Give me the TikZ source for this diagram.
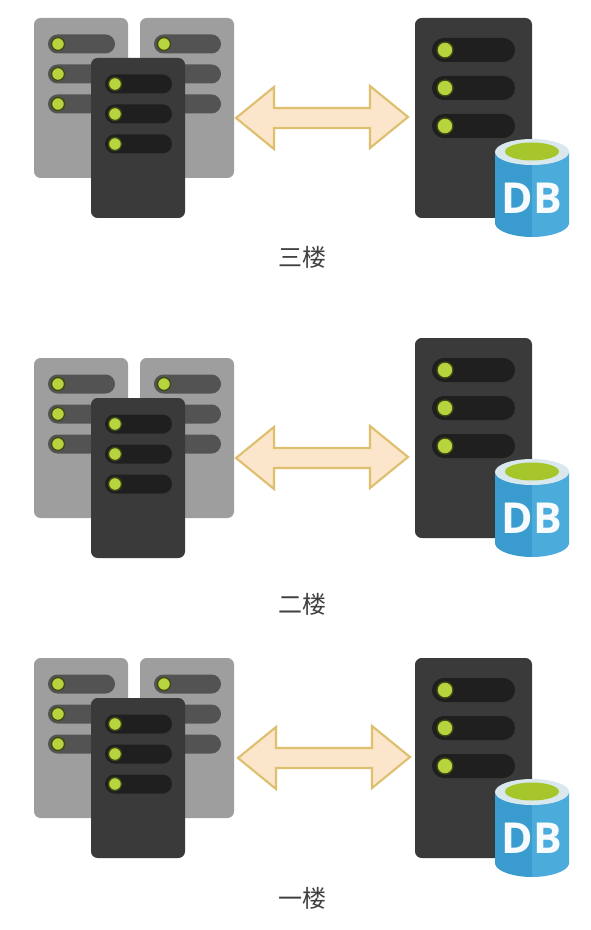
\documentclass[tikz,border=0pt]{standalone}
\usepackage{fontspec}
\setmainfont{Open Sans}
\newfontfamily\cjk{Noto Sans CJK SC}
\definecolor{srvgray}{HTML}{9E9E9E}
\definecolor{pillgray}{HTML}{535353}
\definecolor{srvdark}{HTML}{3A3A3A}
\definecolor{pilldark}{HTML}{1F1F1F}
\definecolor{ledgreen}{HTML}{B7D33E}
\definecolor{ledring}{HTML}{3F4A12}
\definecolor{arrowfill}{HTML}{FBE6CB}
\definecolor{arrowline}{HTML}{DDBF6E}
\definecolor{dbblue}{HTML}{3A9BCF}
\definecolor{dblight}{HTML}{4BABDB}
\definecolor{dbrim}{HTML}{D9E8EC}
\definecolor{dbgreen}{HTML}{A6C62B}
\tikzset{
  x=0.75pt,y=-0.75pt,
  grayserver/.style={fill=srvgray,rounded corners=5pt},
  darkserver/.style={fill=srvdark,rounded corners=5pt},
  ledlight/.style={fill=ledgreen,draw=ledring,line width=1pt},
  linkarrow/.style={fill=arrowfill,draw=arrowline,line width=1.6pt,line join=miter},
  floorlabel/.style={font=\cjk\fontsize{18}{18}\selectfont,text=black!75,inner sep=0pt},
  dbtext/.style={font=\bfseries\fontsize{32}{32}\selectfont,text=white!96!dbblue,inner sep=0pt},
}
% small server: #1 x, #2 y (top left), #3 body style, #4 pill colour
\newcommand{\smallsrv}[4]{%
  \fill[#3] (#1,#2) rectangle ++(94,160);
  \foreach \r in {26,56,86}{
    \fill[#4,rounded corners=7.1pt] (#1+14,#2+\r-9.5) rectangle ++(67,19);
    \draw[ledlight] (#1+24,#2+\r) circle (6.5);
  }
}
% large server
\newcommand{\bigsrv}[1]{%
  \fill[darkserver] (415,#1) rectangle ++(117,200);
  \foreach \r in {32,70,108}{
    \fill[pilldark,rounded corners=8.9pt] (432,#1+\r-12) rectangle ++(83,24);
    \draw[ledlight] (445,#1+\r) circle (8);
  }
}
% database cylinder, #1 y offset, #2 node name
\newcommand{\dbcyl}[2]{%
  \begin{scope}[yshift=-#1*0.75pt]
    \fill[dbblue] (495,152) -- (495,224) .. controls (497,232) and (515,237) .. (532,237)
       -- (532,165) -- cycle;
    \fill[dblight] (569,152) -- (569,224) .. controls (567,232) and (549,237) .. (532,237)
       -- (532,165) -- cycle;
    \fill[dbrim] (532,152) ellipse (37 and 13);
    \fill[dbgreen] (532,151.5) ellipse (27 and 9);
    \node[dbtext] (#2) at (532,198) {DB};
  \end{scope}
}
% double arrow: #1 x shift, #2 y of centre
\newcommand{\linkarr}[2]{%
  \draw[linkarrow] (236+#1,#2+1) -- (274+#1,#2-30) -- (274+#1,#2-9) -- (370+#1,#2-9)
    -- (370+#1,#2-31) -- (408+#1,#2) -- (370+#1,#2+31) -- (370+#1,#2+11)
    -- (274+#1,#2+11) -- (274+#1,#2+32) -- cycle;
}
\newcommand{\lefttrio}[1]{%
  \smallsrv{34}{#1}{grayserver}{pillgray}
  \smallsrv{140}{#1}{grayserver}{pillgray}
  \smallsrv{91}{#1+40}{darkserver}{pilldark}
}
\begin{document}
\begin{tikzpicture}
\useasboundingbox (0,0) rectangle (590,930);
\fill[white] (0,0) rectangle (590,930);
% third floor
\lefttrio{18}
\linkarr{0}{117}
\bigsrv{18}
\dbcyl{0}{dbc}
\node[floorlabel] (lc) at (302,257) {三楼};
% second floor
\lefttrio{358}
\linkarr{0}{457}
\bigsrv{338}
\dbcyl{320}{dbb}
\node[floorlabel] (lb) at (302,604) {二楼};
% first floor
\lefttrio{658}
\linkarr{2}{757}
\bigsrv{658}
\dbcyl{640}{dba}
\node[floorlabel] (la) at (302,898) {一楼};
\end{tikzpicture}
\end{document}
